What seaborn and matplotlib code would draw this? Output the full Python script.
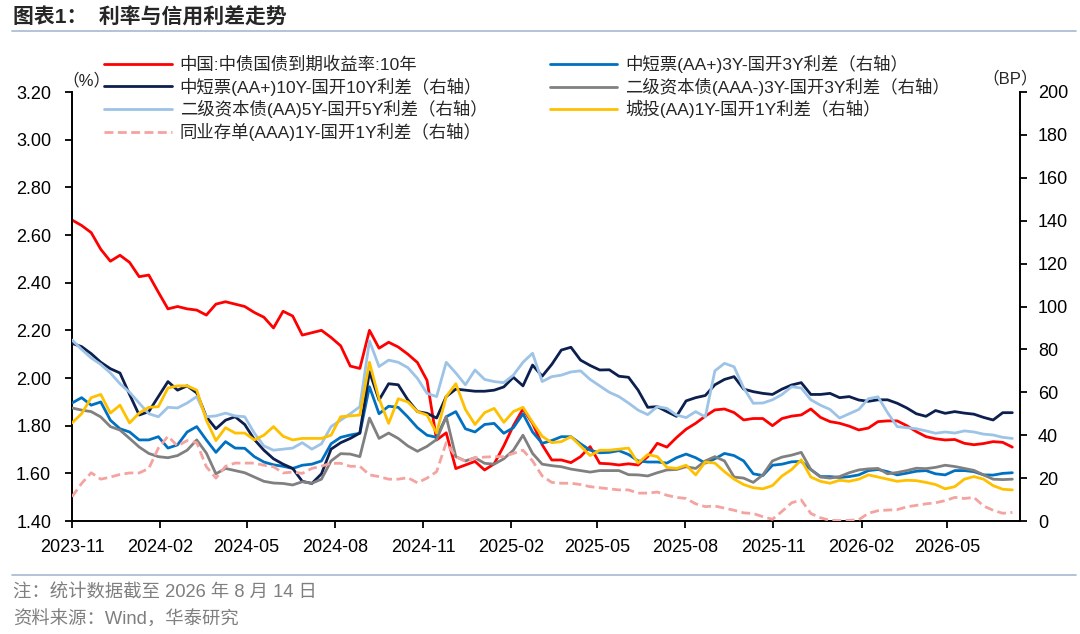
import numpy as np
import pandas as pd
import seaborn as sns
import matplotlib.pyplot as plt
import matplotlib.dates as mdates
from matplotlib.lines import Line2D
from matplotlib.ticker import FormatStrFormatter

# 10-day sampling from 2023-11-01
dates = pd.date_range('2023-11-01', periods=99, freq='10D')

# left axis, %
cgb_10y = [2.663, 2.64, 2.61, 2.54, 2.49, 2.515, 2.485, 2.425, 2.432, 2.36,
           2.29, 2.30, 2.29, 2.285, 2.264, 2.31, 2.32, 2.31, 2.30, 2.275,
           2.255, 2.21, 2.28, 2.26, 2.18, 2.19, 2.20, 2.17, 2.135, 2.05,
           2.04, 2.20, 2.125, 2.15, 2.13, 2.10, 2.065, 1.99, 1.74, 1.77,
           1.62, 1.635, 1.65, 1.614, 1.64, 1.715, 1.80, 1.87, 1.81, 1.72,
           1.656, 1.656, 1.645, 1.67, 1.712, 1.642, 1.64, 1.635, 1.64, 1.635,
           1.67, 1.726, 1.71, 1.75, 1.785, 1.81, 1.84, 1.866, 1.87, 1.855,
           1.824, 1.83, 1.83, 1.80, 1.83, 1.84, 1.845, 1.87, 1.835, 1.817,
           1.81, 1.798, 1.782, 1.79, 1.817, 1.82, 1.82, 1.80, 1.775, 1.754,
           1.745, 1.74, 1.742, 1.726, 1.72, 1.725, 1.733, 1.73, 1.71]

# right axis, BP
mtn_aap_10y = [82.8, 81.3, 78, 74, 71, 69, 59, 49.4, 51, 58,
               65, 61, 63, 59.7, 48.6, 43, 47, 48.6, 45, 38,
               33, 29, 26.5, 24.5, 18.5, 17.5, 22, 33.5, 36.5, 38.5,
               41, 69.6, 56.4, 64, 63.5, 56.5, 51, 50.2, 48, 58,
               61.5, 61, 60.5, 60.5, 61, 62.5, 67, 63, 72.7, 67.5,
               73, 79.7, 81, 75, 72.5, 70.4, 70.5, 67.5, 67, 61,
               53, 53.3, 51, 48.8, 56, 57.5, 58.5, 63.5, 66, 67.3,
               61.5, 60.3, 59.5, 59, 61.5, 63.4, 64.5, 59, 59, 59.5,
               57.5, 58, 56.4, 55.8, 56.5, 56.5, 54.9, 52.7, 50, 48.8,
               51.5, 50.2, 51, 50.3, 49.8, 48.3, 47.1, 50.5, 50.5]

t2_aa_5y = [84.4, 80, 76, 73, 69, 64, 60, 55, 50, 48.6,
            53, 52.7, 55, 58, 48.6, 49, 50.3, 49, 48.6, 41,
            35, 33, 33.5, 34, 36.5, 33.5, 36, 44, 47, 50,
            53.3, 84, 72, 75, 74, 71.5, 66.5, 59.5, 58, 74,
            69, 63.5, 70.4, 66, 65, 64.5, 68, 74, 78.2, 65,
            67.3, 68, 69.5, 70, 66, 63, 60, 58, 55, 51.7,
            49.6, 53.3, 52.5, 49.4, 48.2, 51, 48.5, 70, 73.5, 71.9,
            62, 54.9, 55, 56.5, 59, 62.6, 62, 56.5, 54, 52,
            48, 50, 52, 57, 57.9, 50.5, 44, 43.5, 43, 42,
            40.9, 41.5, 41, 42, 41.5, 40.5, 40.1, 39, 38.5]

ncd_aaa_1y = [11.3, 17.5, 22.5, 19.5, 20.5, 21.7, 22.4, 22.4, 24.5, 34,
              39.5, 35, 37.5, 36.5, 25.3, 20, 25.5, 27, 27, 27,
              26, 25.3, 22.4, 22.8, 22.2, 24.5, 25.6, 26.9, 26.9, 25.5,
              25.5, 21.5, 20.7, 19.5, 19.5, 20.2, 17.8, 20, 23, 36.5,
              30, 27.8, 29.5, 29.8, 30, 30, 31.5, 33, 28, 21,
              18, 17.6, 17.6, 17, 16, 15.5, 15, 14.5, 14.5, 13,
              13, 13.5, 12, 11, 10.5, 8, 6.7, 7, 6, 5,
              3.8, 3.5, 2, 0.8, 4.5, 8.5, 9.8, 3.5, 1.5, 0.3,
              0.2, 0.3, 0.6, 3.6, 4.8, 5.1, 5.3, 6.6, 7.3, 8,
              8.5, 9.5, 11, 10.5, 11, 7, 5, 3.6, 4]

mtn_aap_3y = [55, 57.5, 54, 55.5, 47, 43, 41.5, 37.8, 37.8, 39.3,
              34, 35.5, 41.5, 44, 37.8, 32, 37, 34, 33.9, 30,
              27.5, 26.2, 25.5, 24.5, 26, 26.5, 28, 36, 39, 40.1,
              40.9, 62.6, 50, 53.5, 53, 48.5, 43.5, 40, 39, 48.6,
              51, 43, 41.5, 45, 45.5, 40.9, 43.5, 50, 41.5, 36.2,
              37.5, 39.3, 39.3, 36, 33, 31.8, 32, 32.8, 31, 28,
              27.5, 27.5, 27, 29.5, 31.2, 29.5, 27, 29, 31.5, 30.5,
              28, 22, 21.2, 26, 26.5, 27.6, 27.8, 24, 20.7, 20.7,
              20.3, 20.7, 21.5, 23.5, 24, 23, 21.5, 22.3, 23.2, 23.5,
              22, 21.5, 23.5, 23.5, 23, 21.5, 21.4, 22.2, 22.5]

t2_aaam_3y = [52.7, 51.7, 51, 48.5, 44, 42.4, 38.5, 34.5, 31.5, 30,
              29.5, 30.5, 33, 37.8, 31.7, 22, 24.5, 23.5, 22.5, 20.5,
              18.5, 17.7, 17.5, 16.8, 18.3, 17.6, 19.5, 28, 31.4, 31.2,
              30, 48, 38.5, 41, 38.5, 35, 32.5, 34.8, 38, 48.6,
              30, 28, 29.5, 26.9, 26.5, 29, 33, 40, 31.5, 26.5,
              25.8, 25.3, 24.2, 23.5, 22.8, 23.5, 23.5, 23.5, 21.6, 21.5,
              21, 22.5, 23.8, 24, 25.3, 24.5, 28, 30, 28, 20.5,
              20, 18, 21.5, 28, 29.8, 30.7, 32, 24, 20.5, 20,
              20.7, 22.5, 23.8, 24.3, 24.5, 22, 22.6, 23.5, 24.6, 24.4,
              25, 26, 25.4, 24.5, 23.6, 21.5, 19.5, 19.3, 19.5]

lgfv_aa_1y = [45.7, 50, 57.5, 59, 50.3, 54, 45.7, 50.3, 53, 53.3,
              62, 63, 63, 61, 47, 37.5, 43.5, 41, 41, 37.8,
              40, 44, 39.5, 37.8, 38.5, 38.5, 38.5, 40, 48.6, 49,
              49.4, 74, 57, 45.5, 57, 55.5, 51, 49.4, 41, 58,
              64, 52, 45, 50.5, 52.5, 46, 51, 53, 46, 39.5,
              36.5, 37, 39.3, 35, 30.5, 33, 33, 33.5, 34, 27,
              31, 30, 25, 24.5, 26, 21.5, 27.5, 27, 23, 19.5,
              17, 15.5, 15, 16.5, 21, 24, 28.5, 20.5, 18.5, 17.6,
              19, 18.5, 19.5, 21.5, 20.5, 19.5, 18.5, 19, 18.8, 18,
              17, 15, 16, 19.5, 20.7, 19.5, 16.5, 14.8, 14.5]

labels = ['中国:中债国债到期收益率:10年',
          '中短票(AA+)3Y-国开3Y利差（右轴）',
          '中短票(AA+)10Y-国开10Y利差（右轴）',
          '二级资本债(AAA-)3Y-国开3Y利差（右轴）',
          '二级资本债(AA)5Y-国开5Y利差（右轴）',
          '城投(AA)1Y-国开1Y利差（右轴）',
          '同业存单(AAA)1Y-国开1Y利差（右轴）']

sns.set_style('white')
plt.rcParams['font.family'] = ['Liberation Sans', 'Noto Sans CJK SC']

W, H = 1080, 634
fig = plt.figure(figsize=(W / 100, H / 100), dpi=100)
ax = fig.add_axes([72 / W, 1 - 521 / H, (1020 - 72) / W, (521 - 92) / H])
ax2 = ax.twinx()

lw = 2.0
sns.lineplot(x=dates, y=cgb_10y, ax=ax, color='#FF0000', lw=lw, label=labels[0], legend=False)
sns.lineplot(x=dates, y=mtn_aap_3y, ax=ax2, color='#0070C0', lw=lw, label=labels[1], legend=False)
sns.lineplot(x=dates, y=mtn_aap_10y, ax=ax2, color='#0C1F4E', lw=lw, label=labels[2], legend=False)
sns.lineplot(x=dates, y=t2_aaam_3y, ax=ax2, color='#808080', lw=lw, label=labels[3], legend=False)
sns.lineplot(x=dates, y=t2_aa_5y, ax=ax2, color='#9DC3E6', lw=lw, label=labels[4], legend=False)
sns.lineplot(x=dates, y=lgfv_aa_1y, ax=ax2, color='#FFC000', lw=lw, label=labels[5], legend=False)
sns.lineplot(x=dates, y=ncd_aaa_1y, ax=ax2, color='#F4A3A0', lw=lw, linestyle=(0, (3.2, 1.6)),
             label=labels[6], legend=False)

ax.set_xlim(pd.Timestamp('2023-11-01'), pd.Timestamp('2026-07-16'))
ax.set_ylim(1.40, 3.20)
ax.set_yticks(np.arange(1.40, 3.21, 0.20))
ax.yaxis.set_major_formatter(FormatStrFormatter('%.2f'))
ax2.set_ylim(0, 200)
ax2.set_yticks(range(0, 201, 20))
ax.xaxis.set_major_locator(mdates.MonthLocator(bymonth=[2, 5, 8, 11]))
ax.xaxis.set_major_formatter(mdates.DateFormatter('%Y-%m'))
ax.set_xlabel('')
ax.set_ylabel('')
ax2.set_ylabel('')

for a in (ax, ax2):
    for s in a.spines.values():
        s.set_visible(False)
        s.set_color('black')
        s.set_linewidth(1.4)
ax.spines['left'].set_visible(True)
ax.spines['bottom'].set_visible(True)
ax2.spines['right'].set_visible(True)

ax.tick_params(axis='y', direction='out', length=5, width=1.3, labelsize=13, pad=10,
               left=True, colors='black')
ax.tick_params(axis='x', direction='out', length=5, width=1.3, labelsize=13, pad=8,
               bottom=True, colors='black')
ax2.tick_params(axis='y', direction='out', length=5, width=1.3, labelsize=13, pad=8,
                right=True, colors='black')

fig.text(86 / W, 1 - 80 / H, '（%）', fontsize=12, ha='center', va='center')
fig.text(1010 / W, 1 - 78 / H, '（BP）', fontsize=12, ha='center', va='center')

# legend, column-major: left column then right column
h1, l1 = ax.get_legend_handles_labels()
h2, l2 = ax2.get_legend_handles_labels()
hd = dict(zip(l1 + l2, h1 + h2))
order = [labels[0], labels[2], labels[4], labels[6], labels[1], labels[3], labels[5]]
fig.legend([hd[k] for k in order], order, ncol=2, loc='upper left',
           bbox_to_anchor=(104 / W, 1 - 55 / H), frameon=False, fontsize=12.5,
           handlelength=3.9, handletextpad=0.45, columnspacing=3.6,
           labelspacing=0.26, borderpad=0, borderaxespad=0)

# title and footer
fig.text(13 / W, 1 - 17 / H, '图表1：  利率与信用利差走势', fontsize=15,
         fontweight='bold', ha='left', va='center')
fig.add_artist(Line2D([12 / W, 1076 / W], [1 - 31 / H] * 2, color='#A9B8D0', lw=1.2))
fig.add_artist(Line2D([12 / W, 1076 / W], [1 - 575 / H] * 2, color='#A9B8D0', lw=1.2))
fig.text(13 / W, 1 - 593 / H, '注：统计数据截至 2026 年 8 月 14 日', fontsize=13.2,
         color='#7F7F7F', ha='left', va='center')
fig.text(13 / W, 1 - 620 / H, '资料来源：Wind，华泰研究', fontsize=13.2,
         color='#7F7F7F', ha='left', va='center')

fig.savefig('out.png', dpi=100)
